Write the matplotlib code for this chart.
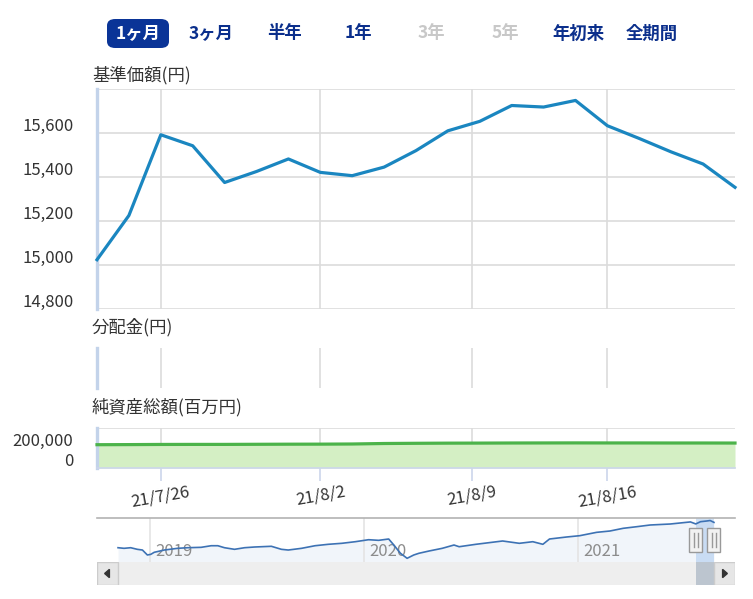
import numpy as np
import matplotlib
matplotlib.use('Agg')
import matplotlib.pyplot as plt
import matplotlib.dates as mdates
from matplotlib.patches import FancyBboxPatch, Rectangle, Polygon
from matplotlib.transforms import ScaledTranslation, blended_transform_factory

plt.rcParams['font.family'] = ['Noto Sans CJK JP', 'DejaVu Sans']

# 基準価額 (営業日のみ)
dates = ['2021-07-20', '2021-07-21', '2021-07-26', '2021-07-27', '2021-07-28',
         '2021-07-29', '2021-07-30', '2021-08-02', '2021-08-03', '2021-08-04',
         '2021-08-05', '2021-08-06', '2021-08-10', '2021-08-11', '2021-08-12',
         '2021-08-13', '2021-08-16', '2021-08-17', '2021-08-18', '2021-08-19',
         '2021-08-20']
nav_price = [15024, 15225, 15592, 15542, 15375, 15425, 15482, 15421, 15406, 15445,
             15520, 15610, 15653, 15725, 15718, 15748, 15633, 15575, 15514, 15459,
             15353]
# 純資産総額 (百万円)
net_assets = [233000, 234000, 235500, 236000, 236000, 237000, 238000, 238500,
              240000, 245000, 247000, 248500, 249000, 250000, 250500, 251000,
              250500, 250500, 250000, 250000, 249500]

tick_dates = ['2021-07-26', '2021-08-02', '2021-08-09', '2021-08-16']
tick_labels = ['21/7/26', '21/8/2', '21/8/9', '21/8/16']
price_ticks = [14800, 15000, 15200, 15400, 15600, 15800]
asset_ticks = [0, 200000, 400000]

range_buttons = ['1ヶ月', '3ヶ月', '半年', '1年', '3年', '5年', '年初来', '全期間']
button_enabled = [True, True, True, True, False, False, True, True]
selected_button = 0

# ナビゲーター (全期間)
nav_year = [2018.850, 2018.878, 2018.909, 2018.940, 2018.964, 2018.987, 2019.003,
            2019.019, 2019.066, 2019.128, 2019.175, 2019.238, 2019.285, 2019.316,
            2019.347, 2019.394, 2019.441, 2019.488, 2019.566, 2019.613, 2019.645,
            2019.707, 2019.770, 2019.832, 2019.895, 2019.958, 2020.020, 2020.067,
            2020.114, 2020.138, 2020.169, 2020.200, 2020.231, 2020.255, 2020.302,
            2020.364, 2020.419, 2020.443, 2020.521, 2020.646, 2020.724, 2020.787,
            2020.834, 2020.865, 2020.944, 2021.006, 2021.085, 2021.147, 2021.209,
            2021.272, 2021.335, 2021.429, 2021.523, 2021.548, 2021.570, 2021.600,
            2021.615, 2021.633]
nav_value = [10000, 9870, 10000, 9660, 9510, 8460, 8600, 9030, 9510, 9870, 10000,
             10080, 10420, 10420, 10000, 9660, 10000, 10150, 10300, 9660, 9510,
             9870, 10420, 10720, 10930, 11270, 11690, 11560, 11840, 10570, 8820,
             7760, 8460, 8820, 9300, 9870, 10570, 10210, 10720, 11420, 10930,
             11270, 10720, 11840, 12260, 12540, 13250, 13530, 14100, 14440, 14800,
             15010, 15450, 15024, 15500, 15650, 15748, 15353]
nav_year_ticks = [2019, 2020, 2021]

W, H = 753, 599
fig = plt.figure(figsize=(W / 100, H / 100), dpi=100)


def px_axes(x0, y0, x1, y1):
    return fig.add_axes([x0 / W, 1 - y1 / H, (x1 - x0) / W, (y1 - y0) / H])


def lift_labels(labels, px):
    for lab in labels:
        lab.set_transform(lab.get_transform() + ScaledTranslation(0, px / 100, fig.dpi_scale_trans))


idx = np.arange(len(dates))
date_num = mdates.datestr2num(dates)
tick_pos = np.interp(mdates.datestr2num(tick_dates), date_num, idx)

grid_c = '#dcdcdc'
axis_blue = '#c3d3ea'
txt_c = '#333333'


def style_panel(ax):
    ax.set_xlim(idx[0], idx[-1])
    ax.set_xticks(tick_pos)
    for s in ['top', 'right', 'bottom']:
        ax.spines[s].set_visible(False)
    ax.spines['left'].set_color(axis_blue)
    ax.spines['left'].set_linewidth(2.4)
    ax.set_axisbelow(True)
    ax.tick_params(axis='both', length=0, labelbottom=False)


# 基準価額
ax1 = px_axes(97, 89, 735, 309)
style_panel(ax1)
ax1.set_ylim(price_ticks[0], price_ticks[-1])
ax1.set_yticks(price_ticks)
ax1.set_yticklabels([f'{v:,}' for v in price_ticks[:-1]] + [''])
ax1.grid(color=grid_c, lw=1.2)
ax1.tick_params(axis='y', pad=17, labelsize=12, labelcolor=txt_c)
lift_labels(ax1.get_yticklabels(), 9)
ax1.plot(idx, nav_price, color='#1a86c0', lw=2.3, clip_on=False, zorder=3)
fig.text(92 / W, 1 - 75 / H, '基準価額(円)', fontsize=12.5, color=txt_c, va='center')

# 分配金
ax2 = px_axes(97, 348, 735, 388)
style_panel(ax2)
ax2.set_yticks([])
ax2.grid(axis='x', color=grid_c, lw=1.2)
fig.text(92 / W, 1 - 327 / H, '分配金(円)', fontsize=12.5, color=txt_c, va='center')

# 純資産総額
ax3 = px_axes(97, 428, 735, 468)
style_panel(ax3)
ax3.set_ylim(asset_ticks[0], asset_ticks[-1])
ax3.set_yticks(asset_ticks)
ax3.set_yticklabels([f'{v:,}' for v in asset_ticks[:-1]] + [''])
ax3.grid(color=grid_c, lw=1.2)
ax3.spines['bottom'].set_visible(True)
ax3.spines['bottom'].set_color('#ccd6eb')
ax3.spines['bottom'].set_linewidth(1.2)
ax3.tick_params(axis='y', pad=17, labelsize=12, labelcolor=txt_c)
lift_labels(ax3.get_yticklabels(), 9)
ax3.tick_params(axis='x', length=9.5, width=1.2, color='#ccd6eb', pad=1.5,
                labelbottom=True, labelsize=12, labelcolor=txt_c)
ax3.set_xticklabels(tick_labels)
for lab in ax3.get_xticklabels():
    lab.set_rotation(10)
    lab.set_ha('center')
    lab.set_va('top')
ax3.fill_between(idx, net_assets, 0, color='#d4efc4', lw=0, zorder=2)
ax3.plot(idx, net_assets, color='#4cb34a', lw=2.3, clip_on=False, zorder=3)
fig.text(92 / W, 1 - 407 / H, '純資産総額(百万円)', fontsize=12.5, color=txt_c, va='center')

# ナビゲーター
ax4 = px_axes(97, 518, 735, 562)
span = nav_year[-1] - nav_year[0]
inset = span * 21 / 595
ax4.set_xlim(nav_year[0] - inset, nav_year[-1] + inset)
nav_lo, nav_hi = 6980, 16280
ax4.set_ylim(nav_lo, nav_hi)
ax4.set_xticks([])
ax4.set_yticks([])
for s in ['left', 'right', 'bottom']:
    ax4.spines[s].set_visible(False)
ax4.spines['top'].set_color('#b3b3b3')
ax4.spines['top'].set_linewidth(1.2)
ax4.fill_between(nav_year, nav_value, nav_lo, color='#f1f5fa', lw=0, zorder=1)
for yr in nav_year_ticks:
    ax4.axvline(yr, color='#e4e4e4', lw=1.2, zorder=1.5)
    ax4.text(yr, 0.25, str(yr), transform=blended_transform_factory(ax4.transData, ax4.transAxes)
             + ScaledTranslation(0.05, 0, fig.dpi_scale_trans),
             fontsize=12, color='#8c8c8c', va='center', ha='left', zorder=2)
sel_start = 2021 + (date_num[0] - mdates.datestr2num('2021-01-01')) / 365
sel_end = 2021 + (date_num[-1] - mdates.datestr2num('2021-01-01')) / 365
ax4.axvspan(sel_start, sel_end, color='#a9c9ee', alpha=0.55, lw=0, zorder=2.5)
ax4.plot(nav_year, nav_value, color='#3d72b4', lw=1.2, zorder=3)

x0, x1 = ax4.get_xlim()
dpx = (x1 - x0) / 638
bt = blended_transform_factory(ax4.transData, ax4.transAxes)
for hx in [sel_start, sel_end]:
    ax4.add_patch(Rectangle((hx - 6.5 * dpx, 0.5 - 12 / 44), 13 * dpx, 24 / 44, transform=bt,
                            facecolor='#f2f2f2', edgecolor='#999999', lw=1, zorder=4, clip_on=False))
    for off in [-1.8, 1.8]:
        ax4.plot([hx + off * dpx] * 2, [0.5 - 7 / 44, 0.5 + 7 / 44], transform=bt,
                 color='#999999', lw=1, zorder=5, clip_on=False)

# スクロールバー
ax5 = px_axes(97, 562, 735, 585)
ax5.set_xlim(x0, x1)
ax5.set_ylim(0, 1)
ax5.set_xticks([])
ax5.set_yticks([])
ax5.set_facecolor('#eeeeee')
for s in ax5.spines.values():
    s.set_visible(False)
ax5.axvspan(sel_start, sel_end, color='#bcc5cf', lw=0)
bw = 21 / 638
for bx, d in [(0, -1), (1 - bw, 1)]:
    ax5.add_patch(Rectangle((bx, 0.02), bw, 0.96, transform=ax5.transAxes,
                            facecolor='#e6e6e6', edgecolor='#cccccc', lw=1))
    cx = bx + bw / 2
    ax5.add_patch(Polygon([[cx + d * 0.0045, 0.5], [cx - d * 0.003, 0.68], [cx - d * 0.003, 0.32]],
                          closed=True, transform=ax5.transAxes, color='#333333'))

# 期間ボタン
for i, (label, enabled) in enumerate(zip(range_buttons, button_enabled)):
    cx = 138 + i * 73.4
    color = '#0b2f8c' if enabled else '#c8c8c8'
    if i == selected_button:
        fig.patches.append(FancyBboxPatch(((cx - 31) / W, 1 - 48 / H), 62 / W, 29 / H,
                                          boxstyle='round,pad=0,rounding_size=0.011',
                                          transform=fig.transFigure, facecolor='#0a3497',
                                          edgecolor='none'))
        color = 'white'
    fig.text(cx / W, 1 - 33.5 / H, label, fontsize=12.5, fontweight='bold', color=color,
             ha='center', va='center')

fig.savefig('out.png', dpi=100, facecolor='white')
